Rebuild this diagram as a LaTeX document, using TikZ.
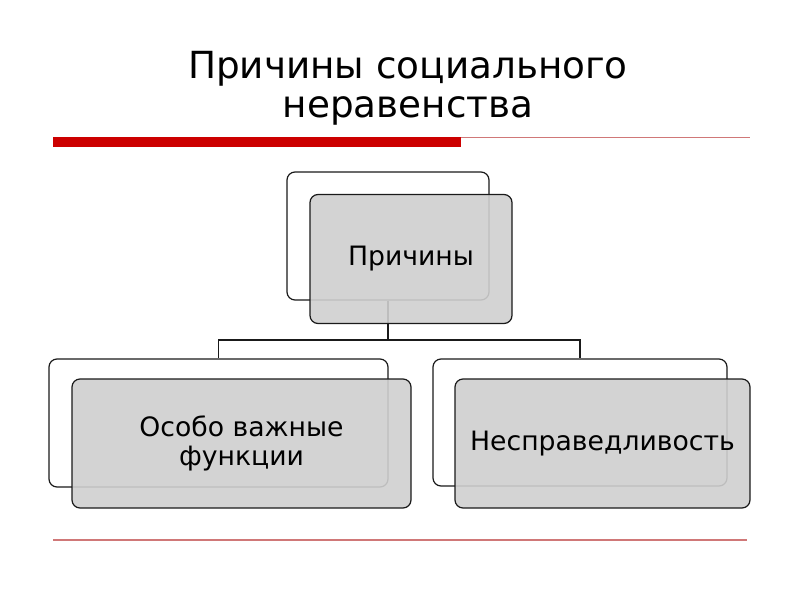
\documentclass[tikz,border=0pt]{standalone}
\usepackage{fontspec}
\setmainfont{DejaVu Sans}
\usetikzlibrary{positioning,calc}
\definecolor{Ink}{HTML}{1A1A1A}
\definecolor{BoxGray}{HTML}{CFCFCF}
\definecolor{Accent}{HTML}{CC0000}
\definecolor{Rule}{HTML}{D07878}

\tikzset{
  backbox/.style={draw=Ink,line width=0.9pt,fill=white,rounded corners=6pt,inner sep=0pt},
  frontbox/.style={draw=Ink,line width=0.9pt,fill=BoxGray,fill opacity=0.9,text opacity=1,
    rounded corners=6pt,inner sep=0pt,align=center,font=\fontsize{20}{22}\selectfont},
  link/.style={draw=Ink,line width=0.9pt}
}

\begin{document}
\begin{tikzpicture}[x=0.75pt,y=-0.75pt]
        \useasboundingbox (0,0) rectangle (800,600);
        % title and rules
        \node[anchor=base,align=center,font=\fontsize{28}{29.25}\selectfont] (title) at (408,117)
          {Причины социального\\неравенства};
        \fill[Accent] (53,137) rectangle (461,147);
        \draw[Rule,line width=1.3pt] (461,137.6) -- (750,137.6);
        \draw[Rule,line width=1.6pt] (53,540) -- (747,540);
        % back boxes
        \node[backbox,minimum width=151.5pt,minimum height=96pt] (causeBack) at (388,236) {};
        \node[backbox,minimum width=254.25pt,minimum height=96pt] (funcBack) at (218.5,423) {};
        \node[backbox,minimum width=220.5pt,minimum height=95.25pt] (unfairBack) at (580,422.5) {};
        % connectors
        \coordinate (bus) at (388,340);
        \draw[link] (causeBack.south) -- (bus) -| (funcBack.north);
        \draw[link] (bus) -| (unfairBack.north);
        % front boxes
        \node[frontbox,minimum width=151.5pt,minimum height=96.75pt] (cause) at (411,259) {Причины};
        \node[frontbox,minimum width=254.25pt,minimum height=96.75pt] (func) at (241.5,443.5) {Особо важные\\функции};
        \node[frontbox,minimum width=221.25pt,minimum height=96.75pt] (unfair) at (602.5,443.5) {Несправедливость};
      \end{tikzpicture}
\end{document}
